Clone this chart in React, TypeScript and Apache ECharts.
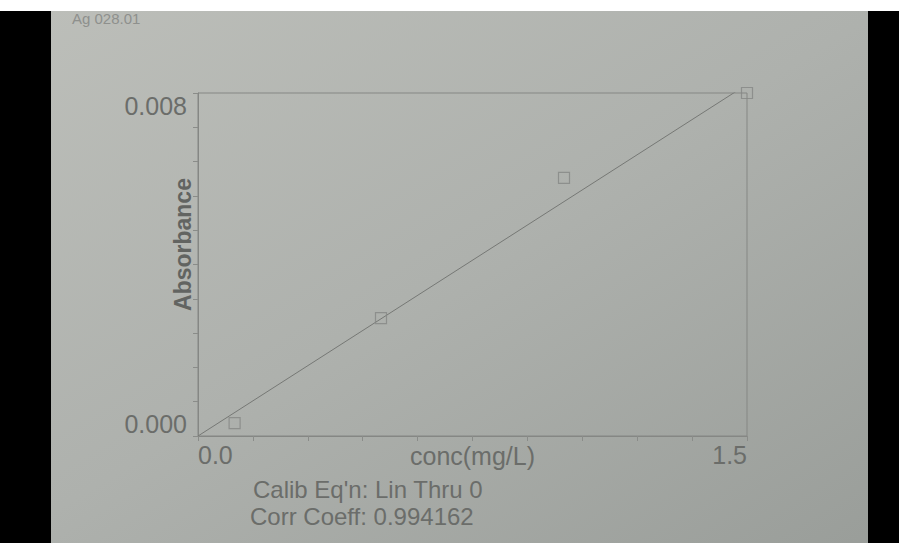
import React, { useEffect, useRef } from "react";
import * as echarts from "echarts";

const concValues = [0.1, 0.5, 1.0, 1.5];
const absorbanceValues = [0.0003, 0.00275, 0.00602, 0.008];
const fitLineX = [0, 1.5];
const fitLineY = [0, 0.0082];
const xTickLabels = ["0.0", "1.5"];
const yTickLabels = ["0.000", "0.008"];
const notes = ["Calib Eq'n: Lin Thru 0", "Corr Coeff: 0.994162"];
const headerText = "Ag 028.01";

export default function App() {
  const ref = useRef<HTMLDivElement>(null);
  useEffect(() => {
    if (!ref.current) return;
    const chart = echarts.init(ref.current, null, { renderer: "svg" });
    const ink = "#6b6d6a";
    const font = "Liberation Sans, Arial, sans-serif";
    chart.setOption({
      animation: false,
      backgroundColor: {
        type: "linear",
        x: 0, y: 0, x2: 1, y2: 1,
        colorStops: [
          { offset: 0, color: "#bdbfba" },
          { offset: 0.5, color: "#aeb1ad" },
          { offset: 1, color: "#999d99" },
        ],
      },
      graphic: [
        { type: "rect", left: 0, top: 0, z: 5, shape: { width: 899, height: 11 }, style: { fill: "#ffffff" } },
        { type: "text", left: 72, top: 11, z: 6, style: { text: headerText, fontSize: 15, fill: "#8e908d", fontFamily: font } },
        { type: "rect", left: 0, top: 11, z: 5, shape: { width: 51, height: 532 }, style: { fill: "#000000" } },
        { type: "rect", left: 868, top: 11, z: 5, shape: { width: 31, height: 532 }, style: { fill: "#000000" } },
        { type: "text", left: 253, top: 477, z: 5, style: { text: notes[0], fontSize: 24, fill: ink, fontFamily: font } },
        { type: "text", left: 250, top: 504, z: 5, style: { text: notes[1], fontSize: 24, fill: ink, fontFamily: font } },
      ],
      grid: {
        left: 198, right: 152, top: 93, bottom: 107,
        show: true, borderColor: "#858784", borderWidth: 1, backgroundColor: "transparent",
      },
      xAxis: {
        type: "value", min: 0, max: 1.5, interval: 0.15,
        name: "conc(mg/L)", nameLocation: "middle", nameGap: 7, nameMoveOverlap: false,
        nameTextStyle: { fontSize: 25, color: ink, fontFamily: font, verticalAlign: "top" },
        axisLine: { lineStyle: { color: "#858784" } },
        axisTick: { show: true, length: 5, lineStyle: { color: "#8a8c89" } },
        splitLine: { show: false },
        axisLabel: {
          fontSize: 25, color: ink, fontFamily: font, margin: 6,
          showMinLabel: true, showMaxLabel: true,
          alignMinLabel: "left", alignMaxLabel: "right",
          formatter: (v: number) => (Math.abs(v) < 1e-9 ? xTickLabels[0] : Math.abs(v - 1.5) < 1e-9 ? xTickLabels[1] : ""),
        },
      },
      yAxis: {
        type: "value", min: 0, max: 0.008, interval: 0.0008,
        name: "Absorbance", nameLocation: "middle", nameGap: 4, nameMoveOverlap: false,
        nameTextStyle: { fontSize: 23, fontWeight: "bold", color: "#626461", fontFamily: font, padding: [0, 0, 0, 40] },
        axisLine: { lineStyle: { color: "#858784" } },
        axisTick: { show: true, length: 5, lineStyle: { color: "#8a8c89" } },
        splitLine: { show: false },
        axisLabel: {
          fontSize: 25, color: ink, fontFamily: font, margin: 11,
          showMinLabel: true, showMaxLabel: true,
          verticalAlignMinLabel: "bottom", verticalAlignMaxLabel: "top",
          formatter: (v: number) => (Math.abs(v) < 1e-9 ? yTickLabels[0] : Math.abs(v - 0.008) < 1e-9 ? yTickLabels[1] : ""),
        },
      },
      series: [
        {
          type: "line",
          data: fitLineX.map((x, i) => [x, fitLineY[i]]),
          showSymbol: false, symbol: "none", clip: true,
          lineStyle: { color: "#767875", width: 1 },
          z: 2,
        },
        {
          type: "scatter",
          data: concValues.map((x, i) => [x, absorbanceValues[i]]),
          symbol: "rect", symbolSize: 11, clip: false,
          itemStyle: { color: "rgba(0,0,0,0)", borderColor: "#858784", borderWidth: 1.2 },
          z: 3,
        },
      ],
    });
    return () => chart.dispose();
  }, []);
  return <div ref={ref} style={{ position: "fixed", left: 0, top: 0, width: 899, height: 543 }} />;
}
